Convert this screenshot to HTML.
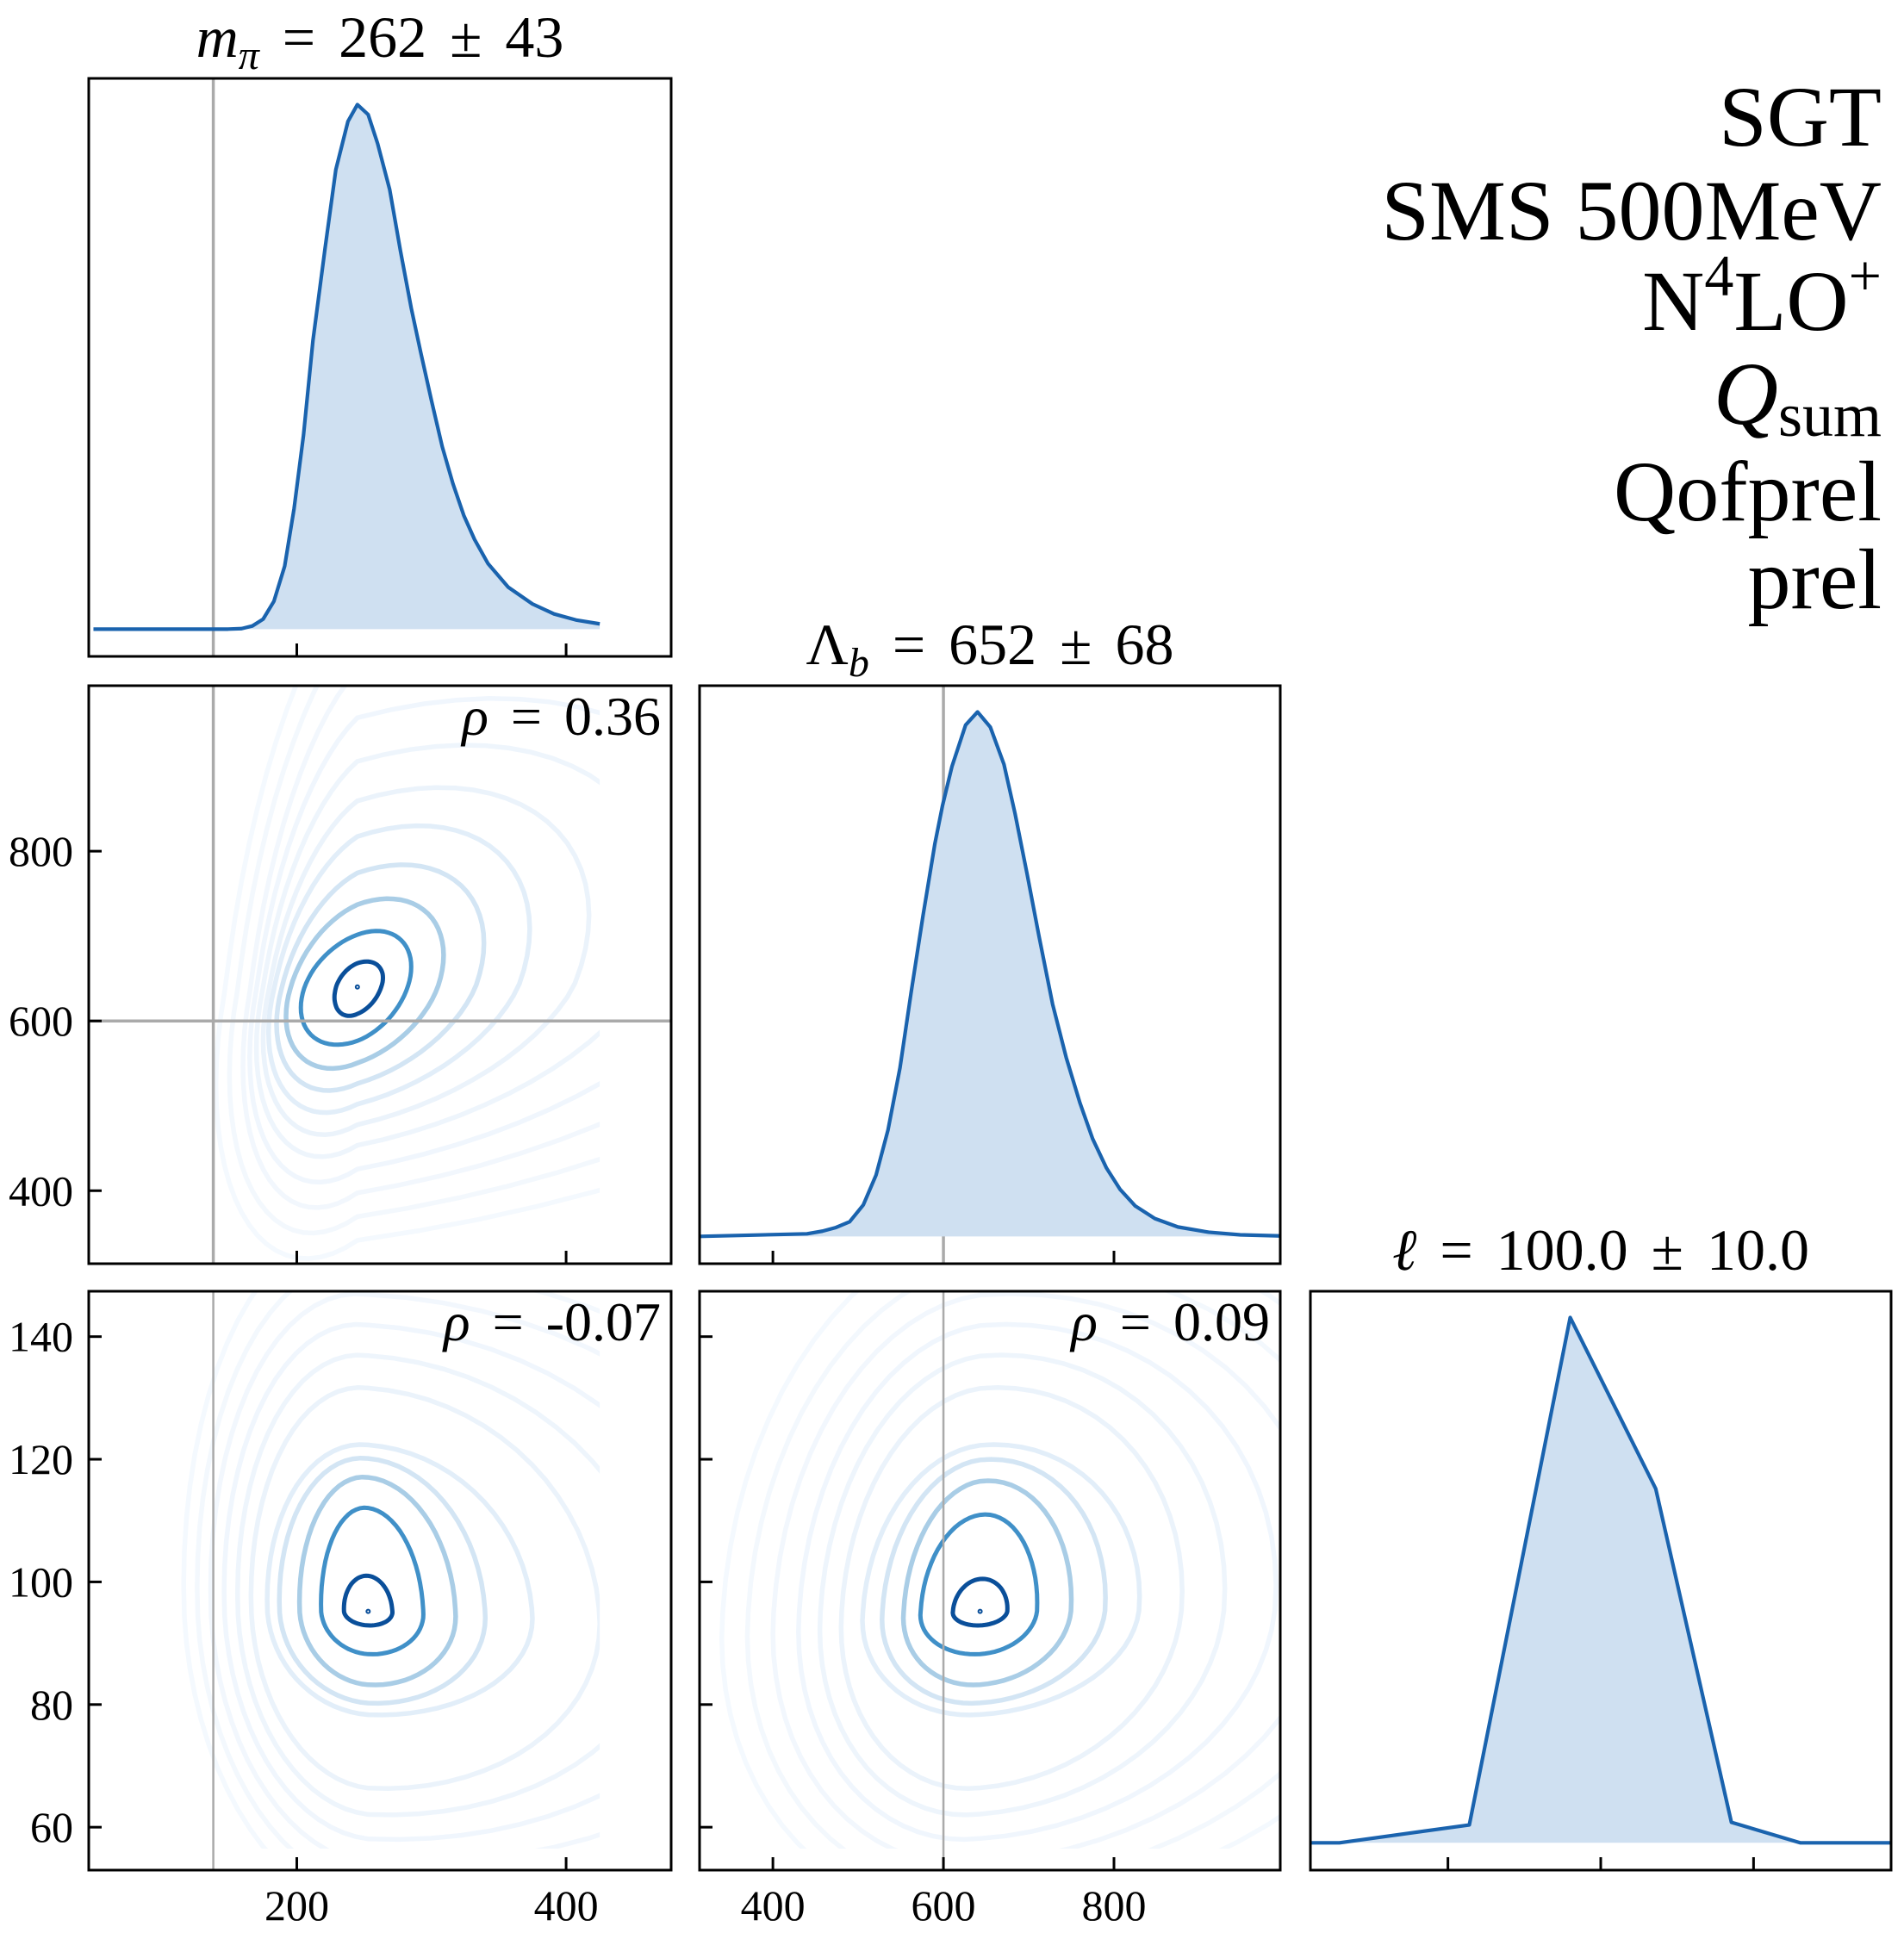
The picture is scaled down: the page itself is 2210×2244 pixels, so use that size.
<!DOCTYPE html>
<html><head><meta charset="utf-8"><style>
html,body{margin:0;padding:0;background:#fff}
svg{display:block}
text{font-family:"Liberation Serif","DejaVu Serif",serif;fill:#000}
</style></head><body>
<svg id="fig" width="2210" height="2244" viewBox="0 0 2210 2244" xmlns="http://www.w3.org/2000/svg">
<g id="content"></g>
<g>
<text x="2184" y="169" text-anchor="end" font-size="100">SGT</text>
<text x="2184" y="278" text-anchor="end" font-size="100">SMS 500MeV</text>
<text x="2184" y="383" text-anchor="end" font-size="100">N<tspan font-size="68" dy="-40">4</tspan><tspan dy="40">LO</tspan><tspan font-size="68" dy="-40">+</tspan></text>
<text x="2184" y="492" text-anchor="end" font-size="104"><tspan font-style="italic">Q</tspan><tspan font-size="72" dy="14">sum</tspan></text>
<text x="2184" y="604" text-anchor="end" font-size="100">Qofprel</text>
<text x="2184" y="706" text-anchor="end" font-size="100">prel</text>
</g>
</svg>
<script>
// ---- data ----
const mpiX = [49,149,159,167,175,183,191,198,205,212,221,229,238,245,253,260,269,277,285,292,300,308,316,324,332,342,357,375,391,408,425];
const mpiD = [0,0,0.1,0.6,1.9,5.3,12,23,37,55,72.6,87.6,96.8,100,98.1,92.6,83.8,72.1,61.2,52.8,43.6,34.8,27.7,21.7,17.1,12.5,8,4.8,2.9,1.7,1.0];
const lamX = [313,440,458,474,490,506,521,535,549,562,576,590,599,610,626,640,655,671,684,698,712,728,744,760,775,791,807,825,848,875,911,948,995];
const lamD = [0,0.5,1,1.7,2.8,6,11.7,20.3,32.1,46.4,61.1,74.9,82.2,89.6,97.5,100,97.1,90,80.6,69.2,57.3,44.3,34.1,25.5,18.6,13.1,9,5.8,3.4,1.8,0.8,0.3,0.1];
const ellX = [62,65.8,82.8,96,107.2,117.1,126.1,138];
const ellD = [0,0,3.4,100,67.4,3.9,0,0];
const rhoLabels = ["ρ = 0.36","ρ = -0.07","ρ = 0.09"];
const refValues = [138,600];
const mTicks = [200,400];
const lamTicks = [400,600,800];
const lamDiagTicks = [400,800];
const ellTicks = [60,80,100,120,140];
const ellDiagTicks = [80,100,120];
const cA_center = [245,640];
const cA_xLo = [228,203,192,185,179,175,170,165,160,150,140];
const cA_xHi = [264,285,309,339,373,417,470,530,600,680,760];
const cA_yLo = [606,572,544,518,492,466,440,410,380,350,320];
const cA_yHi = [670,706,744,784,830,875,925,980,1040,1100,1160];
const cB_center = [253,95.2];
const cB_xLo = [235,218,202,187,178,166,156,146,136,126,116];
const cB_xHi = [271,294,318,340,375,425,470,520,580,640,700];
const cB_yLo = [92.9,88.2,83.2,80.2,78.3,66.3,62,58,54,50,46];
const cB_yHi = [101,112.1,117.1,120.2,122.4,131.7,137,142,147,152,158];
const cC_center = [643,95.2];
const cC_xLo = [611,573,553,528,505,480,455,430,400,370,340];
const cC_xHi = [675,710,750,790,830,880,930,990,1050,1110,1170];
const cC_yLo = [92.9,88.2,83.2,80.2,78.3,66.3,62,58,54,50,46];
const cC_yHi = [100.5,111,116.5,120,122.4,131.7,137,142,147,152,158];
const levelColors = ["#0a4f9a","#4090c8","#a9cde6","#d3e5f4","#e2eef9","#ebf3fb","#eef5fc","#f0f6fd","#f2f7fd","#f3f8fd","#f4f9fe"];
const levelWidths = [5,5,5.5,5.5,5.5,5.5,5.5,5.5,5.5,5.5,5.5];

// ---- layout ----
const NS="http://www.w3.org/2000/svg";
const root=document.getElementById('content');
const cols=[[103,779],[812,1486],[1521,2195]];
const rows=[[91,762],[796,1467],[1499,2171]];
const mRange=[45.5,478], lamRange=[314,995], ellRange=[53,147.4], ellDiagRange=[62,138], dRange=[-5.2,105];
function lin(d0,d1,p0,p1){return v=>p0+(v-d0)/(d1-d0)*(p1-p0);}
function mk(tag,attrs,parent){const e=document.createElementNS(NS,tag);for(const k in attrs)e.setAttribute(k,attrs[k]);(parent||root).appendChild(e);return e;}
let clipId=0;
function panel(ci,ri,name){
  const [x0,x1]=cols[ci],[y0,y1]=rows[ri];
  const g=mk('g',{});
  
  
  const id='clip'+(clipId++);
  const cp=mk('clipPath',{id:id},g);mk('rect',{x:x0,y:y0,width:x1-x0,height:y1-y0},cp);
  const inner=mk('g',{'clip-path':'url(#'+id+')'},g);
  return {g,inner,x0,x1,y0,y1};
}
function frame(p){
  const r=mk('rect',{x:p.x0,y:p.y0,width:p.x1-p.x0,height:p.y1-p.y0,fill:'none',stroke:'#000','stroke-width':3},p.g);
  
  
}
function xTicks(p,sx,ticks,labels){
  ticks.forEach(t=>{const x=sx(t);
    const l=mk('line',{x1:x,x2:x,y1:p.y1,y2:p.y1-15,stroke:'#000','stroke-width':3},p.g);
    
    
    if(labels){const tx=mk('text',{x:x,y:2229,'text-anchor':'middle','font-size':50},p.g);tx.textContent=t;
      
      }
  });
}
function yTicks(p,sy,ticks,labels){
  ticks.forEach(t=>{const y=sy(t);
    const l=mk('line',{x1:p.x0,x2:p.x0+15,y1:y,y2:y,stroke:'#000','stroke-width':3},p.g);
    
    
    if(labels){const tx=mk('text',{x:p.x0-18,y:y+17,'text-anchor':'end','font-size':50},p.g);tx.textContent=t;
      
      }
  });
}
function refV(p,x,w){const l=mk('line',{x1:x,x2:x,y1:p.y0,y2:p.y1,stroke:'#aaaaaa','stroke-width':w||3.5},p.inner);
  
  }
function refH(p,y){const l=mk('line',{x1:p.x0,x2:p.x1,y1:y,y2:y,stroke:'#aaaaaa','stroke-width':3.5},p.inner);
  
  }
function title(p,main,italic,sub,rest){
  const t=mk('text',{x:(p.x0+p.x1)/2,y:p.y0-25,'text-anchor':'middle','font-size':68,'word-spacing':'10'},p.g);
  
  
  const a=mk('tspan',italic?{'font-style':'italic'}:{},t);a.textContent=main;
  if(sub){const b=mk('tspan',{'font-size':48,dy:14,'font-style':'italic'},t);b.textContent=sub;
    const c=mk('tspan',{dy:-14},t);c.textContent=rest;}
  else{const c=mk('tspan',{},t);c.textContent=rest;}
}
function diag(p,xs,ds,sx,sy,name){
  const pts=xs.map((v,i)=>[sx(v),sy(ds[i])]);
  let d='M'+pts.map(q=>q.join(',')).join(' L');
  const fd=d+' L'+pts[pts.length-1][0]+','+sy(0)+' L'+pts[0][0]+','+sy(0)+' Z';
  const f=mk('path',{d:fd,fill:'#cfe0f1',stroke:'none'},p.inner);
  
  
  const l=mk('path',{d:d,fill:'none',stroke:'#1a63ae','stroke-width':4.2,'stroke-linejoin':'round'},p.inner);
  
  
}
function contours(p,sx,sy,center,xLo,xHi,yLo,yHi,rho,clipMaxX,clipMinY,name){
  const id='cc'+(clipId++);
  const cp=mk('clipPath',{id:id},p.inner);
  const cx1=Math.min(p.x1,sx(clipMaxX)), cy1=clipMinY==null?p.y1:Math.min(p.y1,sy(clipMinY));
  mk('rect',{x:p.x0,y:p.y0,width:cx1-p.x0,height:cy1-p.y0},cp);
  const g=mk('g',{'clip-path':'url(#'+id+')'},p.inner);
  const s=Math.sqrt(1-rho*rho);
  for(let k=xLo.length-1;k>=0;k--){
    let d='';
    for(let i=0;i<=72;i++){const t=i/72*2*Math.PI;
      const u=Math.cos(t), v=rho*Math.cos(t)+s*Math.sin(t);
      const xv=center[0]+u*(u>0?xHi[k]-center[0]:center[0]-xLo[k]);
      const yv=center[1]+v*(v>0?yHi[k]-center[1]:center[1]-yLo[k]);
      d+=(i?'L':'M')+sx(xv).toFixed(1)+','+sy(yv).toFixed(1);}
    const e=mk('path',{d:d+'Z',fill:'none',stroke:levelColors[k],'stroke-width':levelWidths[k]},g);
    
    
  }
  const dot=mk('circle',{cx:sx(center[0]),cy:sy(center[1]),r:2,fill:'none',stroke:'#0a4f9a','stroke-width':2},g);
  
  
}
function rhoText(p,txt){const t=mk('text',{x:p.x1-12,y:p.y0+57,'text-anchor':'end','font-size':64,'word-spacing':'10'},p.g);
  
  
  const a=mk('tspan',{'font-style':'italic'},t);a.textContent=txt.slice(0,1);
  const b=mk('tspan',{},t);b.textContent=txt.slice(1);}

let p=panel(0,0,'mpi-marginal');
let sx=lin(mRange[0],mRange[1],p.x0,p.x1), sy=lin(dRange[0],dRange[1],p.y1,p.y0);
refV(p,sx(refValues[0]));
diag(p,mpiX,mpiD,sx,sy,'mpi-density');
frame(p);xTicks(p,sx,mTicks,false);
title(p,'m',true,'π',' = 262 ± 43');

p=panel(1,1,'lambda-marginal');
sx=lin(lamRange[0],lamRange[1],p.x0,p.x1); sy=lin(dRange[0],dRange[1],p.y1,p.y0);
refV(p,sx(refValues[1]));
diag(p,lamX,lamD,sx,sy,'lambda-density');
frame(p);xTicks(p,sx,lamDiagTicks,false);
title(p,'Λ',false,'b',' = 652 ± 68');

p=panel(2,2,'ell-marginal');
sx=lin(ellDiagRange[0],ellDiagRange[1],p.x0,p.x1); sy=lin(dRange[0],dRange[1],p.y1,p.y0);
diag(p,ellX,ellD,sx,sy,'ell-density');
frame(p);xTicks(p,sx,ellDiagTicks,false);
title(p,'ℓ',true,null,' = 100.0 ± 10.0');

p=panel(0,1,'mpi-lambda-contours');
sx=lin(mRange[0],mRange[1],p.x0,p.x1); sy=lin(lamRange[0],lamRange[1],p.y1,p.y0);
contours(p,sx,sy,cA_center,cA_xLo,cA_xHi,cA_yLo,cA_yHi,0.36,425,null,'mpi-lambda-contour');
refV(p,sx(refValues[0]));refH(p,sy(refValues[1]));
frame(p);xTicks(p,sx,mTicks,false);yTicks(p,sy,lamTicks,true);
rhoText(p,rhoLabels[0]);

p=panel(0,2,'mpi-ell-contours');
sx=lin(mRange[0],mRange[1],p.x0,p.x1); sy=lin(ellRange[0],ellRange[1],p.y1,p.y0);
contours(p,sx,sy,cB_center,cB_xLo,cB_xHi,cB_yLo,cB_yHi,-0.07,425,56.5,'mpi-ell-contour');
refV(p,sx(refValues[0]),2.5);
frame(p);xTicks(p,sx,mTicks,true);yTicks(p,sy,ellTicks,true);
rhoText(p,rhoLabels[1]);

p=panel(1,2,'lambda-ell-contours');
sx=lin(lamRange[0],lamRange[1],p.x0,p.x1); sy=lin(ellRange[0],ellRange[1],p.y1,p.y0);
contours(p,sx,sy,cC_center,cC_xLo,cC_xHi,cC_yLo,cC_yHi,0.09,2000,56.5,'lambda-ell-contour');
refV(p,sx(refValues[1]),2.5);
frame(p);xTicks(p,sx,lamTicks,true);yTicks(p,sy,ellTicks,false);
rhoText(p,rhoLabels[2]);
</script>
</body></html>
